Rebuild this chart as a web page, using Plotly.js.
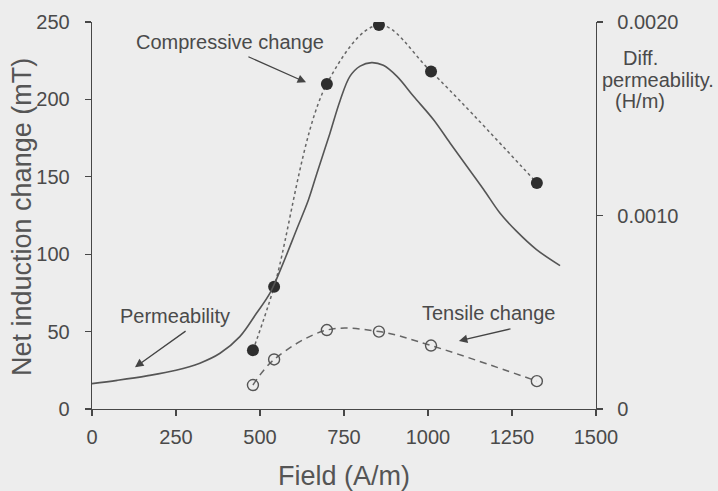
<!DOCTYPE html>
<html>
<head>
<meta charset="utf-8">
<script src="https://cdn.plot.ly/plotly-3.0.1.min.js"></script>
<style>
html,body{margin:0;padding:0;background:#ededed;}
#chart{width:718px;height:491px;}
</style>
</head>
<body>
<div id="chart"></div>
<script>
// Compressive change (filled markers), mT
const compField = [479, 542, 699, 854, 1009, 1324];
const compChange = [38, 79, 210, 248, 218, 146];
// Tensile change (open markers), mT
const tensField = [479, 542, 699, 854, 1009, 1324];
const tensChange = [15.5, 32, 51, 50, 41, 18];
// Differential permeability (solid line), H/m
const permField = [0, 75, 163, 250, 321, 381, 440, 490, 530, 569, 609, 644, 669, 708, 738, 768, 798, 832, 867, 907, 957, 1016, 1065, 1115, 1165, 1214, 1264, 1323, 1393];
const permValue = [0.000131, 0.000148, 0.000171, 0.0002, 0.000237, 0.000288, 0.000374, 0.000496, 0.0006, 0.000754, 0.000928, 0.00108, 0.001216, 0.001424, 0.001592, 0.00172, 0.001772, 0.00179, 0.001776, 0.00172, 0.001616, 0.001496, 0.001376, 0.001256, 0.001136, 0.001013, 0.000918, 0.000824, 0.000741];
// Axis ticks
const xTicks = [0, 250, 500, 750, 1000, 1250, 1500];
const yTicks = [0, 50, 100, 150, 200, 250];
const y2Ticks = [0, 0.001, 0.002];
const y2TickText = ["0", "0.0010", "0.0020"];

const ink = '#474747';
const txt = '#4a4a4a';
const ttl = '#555555';
const fam = 'Liberation Sans, Arial, sans-serif';

const traces = [
  {x: permField, y: permValue, yaxis: 'y2', mode: 'lines', line: {shape: 'spline', smoothing: 1, color: '#555', width: 1.6}, hoverinfo: 'skip'},
  {x: compField, y: compChange, mode: 'lines+markers', line: {shape: 'spline', smoothing: 1, color: '#666', width: 1.5, dash: 'dot'},
   marker: {symbol: 'circle', size: 12, color: '#2e2e2e', line: {color: '#2e2e2e', width: 0}}},
  {x: tensField, y: tensChange, mode: 'lines+markers', line: {shape: 'spline', smoothing: 1, color: '#666', width: 1.5, dash: '7px,5px'},
   marker: {symbol: 'circle-open', size: 11, color: '#555', line: {width: 1.4}}}
];

const annText = (text, x, y) => ({text: text, x: x, y: y, xref: 'x', yref: 'y', xanchor: 'center', yanchor: 'middle', showarrow: false, font: {size: 20, color: txt}});
const annArrow = (hx, hy, tx, ty) => ({text: '', x: hx, y: hy, ax: tx, ay: ty, xref: 'x', yref: 'y', axref: 'x', ayref: 'y',
  showarrow: true, arrowhead: 2, arrowsize: 1.3, arrowwidth: 1.3, arrowcolor: '#444'});

const layout = {
  width: 718, height: 491,
  margin: {l: 92, r: 122, t: 22, b: 82},
  paper_bgcolor: '#ededed', plot_bgcolor: '#ededed',
  font: {family: fam, color: txt, size: 20},
  showlegend: false,
  xaxis: {range: [0, 1500], tickvals: xTicks, showgrid: false, zeroline: false, showline: true, linecolor: ink, linewidth: 1.3,
    ticks: 'outside', ticklen: 6, tickcolor: ink, tickwidth: 1.3, ticklabelstandoff: 4,
    title: {text: 'Field (A/m)', font: {size: 27, color: ttl}, standoff: 21}},
  yaxis: {range: [0, 250], tickvals: yTicks, showgrid: false, zeroline: false, showline: true, linecolor: ink, linewidth: 1.3,
    ticks: 'outside', ticklen: 6, tickcolor: ink, tickwidth: 1.3, ticklabelstandoff: 11},
  yaxis2: {range: [0, 0.002], overlaying: 'y', side: 'right', tickvals: y2Ticks, ticktext: y2TickText, showgrid: false, zeroline: false,
    showline: true, linecolor: ink, linewidth: 1.3, ticks: 'outside', ticklen: 6, tickcolor: ink, tickwidth: 1.3, ticklabelstandoff: 10},
  annotations: [
    annText('Compressive change', 411, 237),
    annArrow(637, 211, 461, 228),
    annText('Permeability', 247, 60),
    annArrow(128, 27, 283, 51),
    annText('Tensile change', 1179, 62),
    annArrow(1092, 44, 1250, 52),
    {text: 'Diff.', x: 640, y: 58, showarrow: false, font: {size: 20, color: txt}},
    {text: 'permeability.', x: 658, y: 80, showarrow: false, font: {size: 20, color: txt}},
    {text: '(H/m)', x: 640, y: 101, showarrow: false, font: {size: 20, color: txt}},
    {text: 'Net induction change (mT)', x: 22, y: 217, textangle: -90, showarrow: false, font: {size: 27, color: ttl}}
  ]
};
// Axis-title text lines outside the plot are placed in pixel space (converted to paper coords)
const pw = 718 - 92 - 122, ph = 491 - 22 - 82;
layout.annotations.slice(6).forEach(a => {
  a.xref = 'paper'; a.yref = 'paper'; a.xanchor = 'center'; a.yanchor = 'middle';
  a.x = (a.x - 92) / pw; a.y = (491 - 82 - a.y) / ph;
});

Plotly.newPlot('chart', traces, layout, {staticPlot: true});
</script>
</body>
</html>
